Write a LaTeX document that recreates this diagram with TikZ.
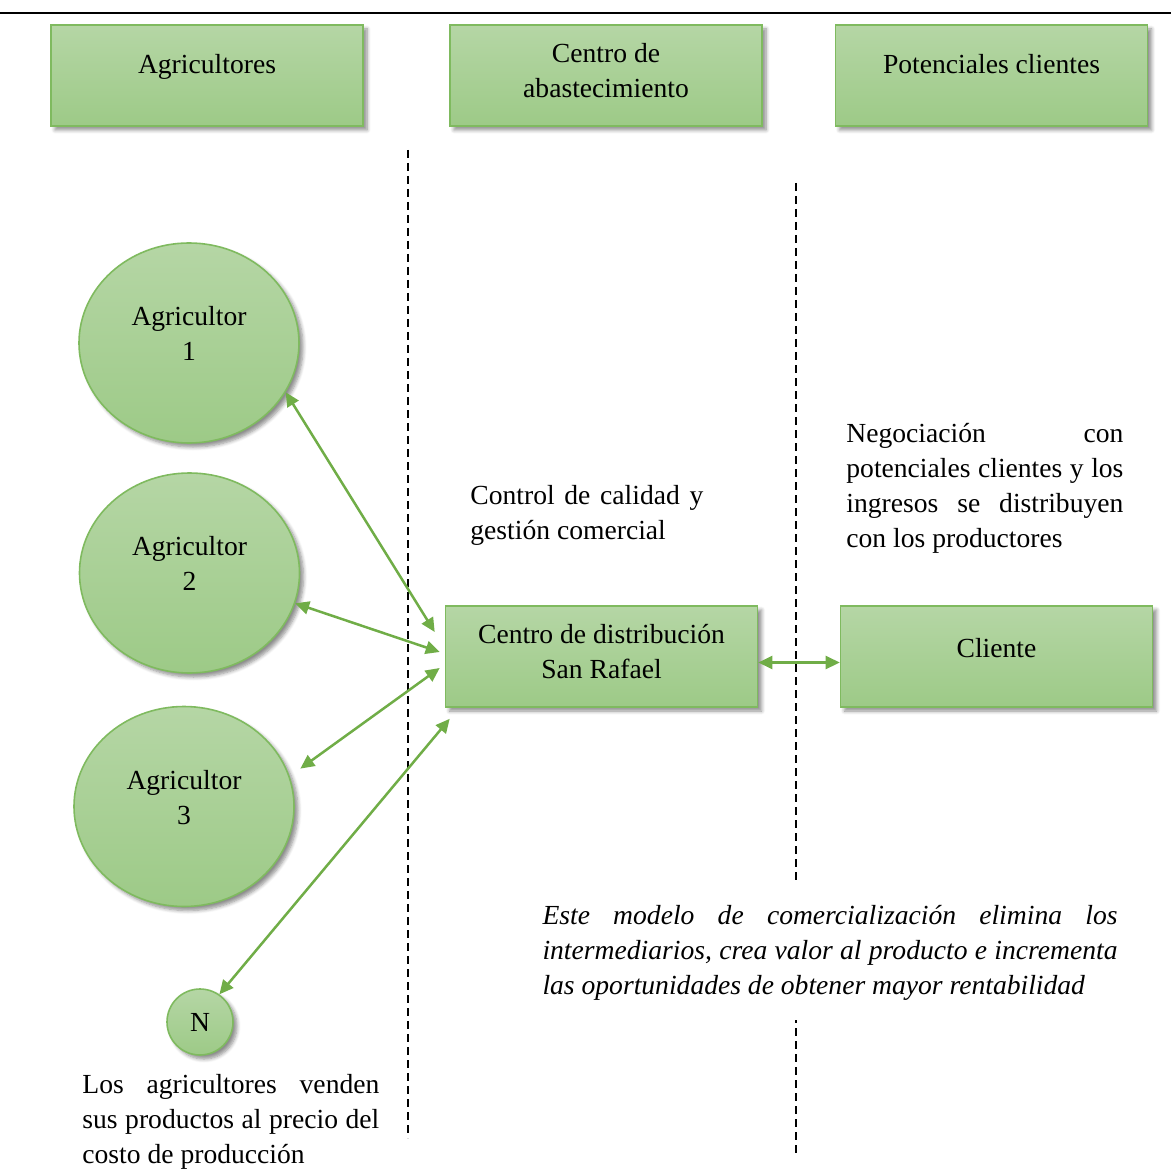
\documentclass[tikz,border=0pt]{standalone}
\usepackage{fontspec}
\setmainfont{Liberation Serif}
\usetikzlibrary{arrows.meta,shapes.geometric,shadows.blur}
\definecolor{gtop}{HTML}{B5D6A5}
\definecolor{gbot}{HTML}{9DCA87}
\definecolor{gline}{HTML}{7FBA5F}
\definecolor{garrow}{HTML}{70AD47}
\begin{document}
\begin{tikzpicture}[x=0.5pt,y=-0.5pt,
  font=\fontsize{13.8}{17.5}\selectfont,
  gfill/.style={draw=gline, line width=0.8pt, top color=gtop, bottom color=gbot,
    inner sep=0pt, align=center,
    blur shadow={shadow xshift=2pt,shadow yshift=-2pt,shadow blur steps=6,shadow opacity=45}},
  gbox/.style={gfill, rectangle, minimum width=156pt, minimum height=50.5pt},
  gell/.style={gfill, ellipse, minimum width=110pt, minimum height=100pt},
  dbl/.style={draw=garrow, line width=1.25pt, {Triangle[length=7pt,width=6.5pt]}-{Triangle[length=7pt,width=6.5pt]}},
  sepline/.style={dash pattern=on 4pt off 2.5pt, line width=0.7pt},
  txt/.style={inner sep=0pt, align=left},
]
\useasboundingbox (0,0) rectangle (1171,1171);
\draw[line width=0.8pt] (0,13) -- (1171,13);

% separators
\draw[sepline] (408,150) -- (408,1138);
\draw[sepline] (796,183) -- (796,1155);

% headers
\node[gbox, text depth=12pt] (hA) at (207,75.5) {Agricultores};
\node[gbox, text depth=5.5pt] (hC) at (606,75.5) {Centro de\\abastecimiento};
\node[gbox, text depth=12pt] (hP) at (991.5,75.5) {Potenciales clientes};

% farmers
\node[gell, text depth=9.5pt] (a1) at (189,343) {Agricultor\\1};
\node[gell, text depth=9.5pt] (a2) at (189.5,573) {Agricultor\\2};
\node[gell, text depth=9.5pt] (a3) at (184,806.5) {Agricultor\\3};
\node[gfill, circle, minimum size=33pt] (aN) at (200,1022) {N};

% centre and client
\node[gbox, text depth=5pt] (cd) at (601.5,656.5) {Centro de distribución\\San Rafael};
\node[gbox, text depth=8.5pt] (cl) at (996.5,656.5) {Cliente};

% connectors
\draw[dbl] (a1.-27) -- ([shift={(-10,-24.5)}]cd.west);
\draw[dbl] (a2.-16) -- ([shift={(-5,-4.5)}]cd.west);
\draw[dbl] ([shift={(12,-4)}]a3.18) -- ([shift={(-5,11.5)}]cd.west);
\draw[dbl] (aN.55) -- ([shift={(5,11)}]cd.south west);
\draw[dbl] ([yshift=-3pt]cd.east) -- ([yshift=-3pt]cl.west);

% texts
\node[txt, anchor=west] (tq) at (470,515)
  {\makebox[116.5pt][s]{Control de calidad y}\\gestión comercial};
\node[txt, anchor=west] (tn) at (846,488)
  {\makebox[138.5pt][s]{Negociación con}\\
   \makebox[138.5pt][s]{potenciales clientes y los}\\
   \makebox[138.5pt][s]{ingresos se distribuyen}\\
   con los productores};
\node[txt, anchor=west] (tb) at (82,1122)
  {\makebox[148.5pt][s]{Los agricultores venden}\\
   \makebox[148.5pt][s]{sus productos al precio del}\\
   costo de producción};
\node[txt, fill=white, minimum width=305pt, minimum height=67.5pt,
      font=\fontsize{13.8}{17.5}\selectfont\itshape] (ti) at (830,952.5)
  {\makebox[287.5pt][s]{Este modelo de comercialización elimina los}\\
   \makebox[287.5pt][s]{intermediarios, crea valor al producto e incrementa}\\
   las oportunidades de obtener mayor rentabilidad};
\end{tikzpicture}
\end{document}
